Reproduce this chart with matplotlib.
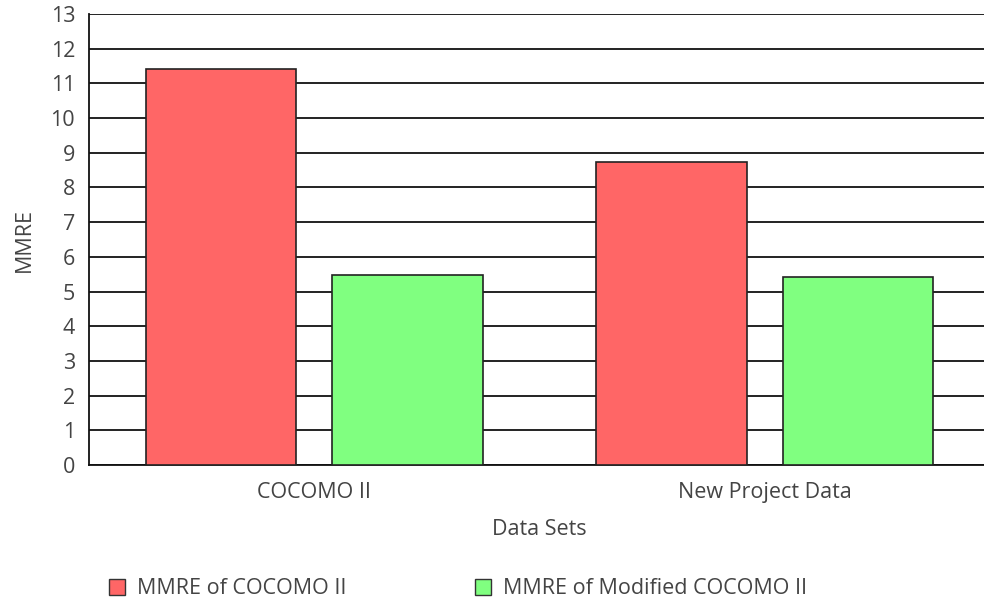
import numpy as np
import matplotlib
matplotlib.use('Agg')
import matplotlib.pyplot as plt
from matplotlib.patches import Patch

categories = ['COCOMO II', 'New Project Data']
mmre_cocomo = [11.41, 8.73]
mmre_modified = [5.48, 5.42]
series_names = ['MMRE of COCOMO II', 'MMRE of Modified COCOMO II']

plt.rcParams['font.family'] = ['Open Sans', 'DejaVu Sans']
text_color = '#444444'
fs = 15.5

fig = plt.figure(figsize=(9.84, 6.0), dpi=100)
ax = fig.add_axes([89/984, 135/600, 901/984, 451/600])

x = np.arange(len(categories))
red = '#ff6666'
green = '#80ff80'
ax.bar(x - 0.207, mmre_cocomo, width=0.333, color=red, edgecolor='#222222', linewidth=1.2, zorder=3)
ax.bar(x + 0.207, mmre_modified, width=0.333, color=green, edgecolor='#222222', linewidth=1.2, zorder=3)

ax.set_xlim(-0.5, 1.5)
ax.set_ylim(0, 13)
ax.set_yticks(range(0, 14))
ax.set_xticks(x)
ax.set_xticklabels(categories)
ax.yaxis.grid(True, color='#111111', linewidth=1.3, zorder=1)
ax.set_axisbelow(True)

for s in ['top', 'right']:
    ax.spines[s].set_visible(False)
for s in ['left', 'bottom']:
    ax.spines[s].set_color('#111111')
    ax.spines[s].set_linewidth(1.3)

ax.tick_params(axis='both', length=0, labelsize=fs, labelcolor=text_color)
ax.tick_params(axis='y', pad=10)
ax.tick_params(axis='x', pad=12)
ax.set_xlabel('Data Sets', fontsize=fs, color=text_color, labelpad=12)
ax.set_ylabel('MMRE', fontsize=fs, color=text_color, labelpad=11)

handles = [Patch(facecolor=red, edgecolor='#333333', label=series_names[0]),
           Patch(facecolor=green, edgecolor='#333333', label=series_names[1])]
fig.legend(handles=handles, loc='center left', bbox_to_anchor=(98/984, 1 - 589/600),
           ncol=2, frameon=False, fontsize=fs, labelcolor=text_color, borderpad=0,
           handlelength=0.75, handleheight=0.75, handletextpad=0.55, columnspacing=6.0)

fig.savefig('out.png', dpi=100)
